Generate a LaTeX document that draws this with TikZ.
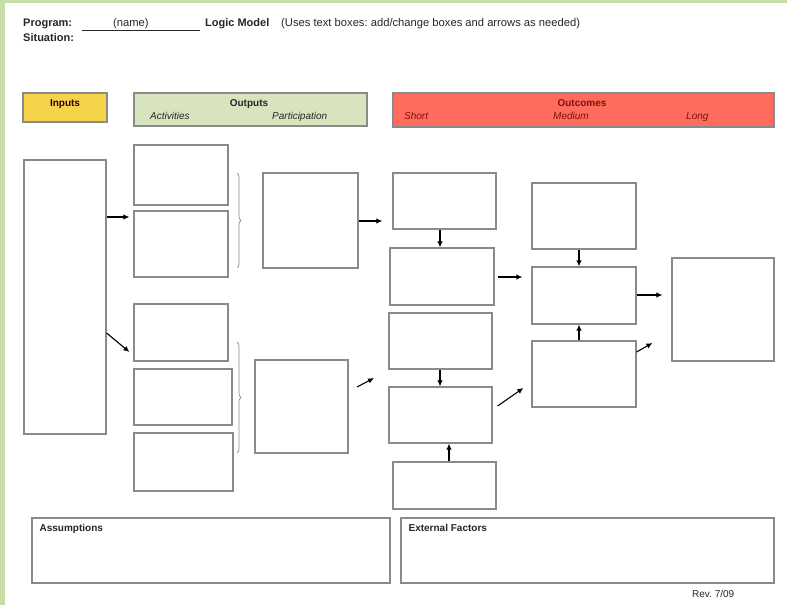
\documentclass[tikz,border=0pt]{standalone}
\usepackage{fontspec}
\setmainfont{Liberation Sans}
\usetikzlibrary{arrows.meta,decorations.pathreplacing}
\frenchspacing
\definecolor{framegreen}{HTML}{C6DDA6}
\definecolor{boxline}{HTML}{8A8A8A}
\definecolor{inputsfill}{HTML}{F5D44A}
\definecolor{outputsfill}{HTML}{D8E4BE}
\definecolor{outcomesfill}{HTML}{FF6B5C}
\definecolor{outcomestext}{HTML}{7A1410}
\definecolor{textdark}{HTML}{262626}
\tikzset{
  box/.style={draw=boxline, line width=1.2pt, fill=white, inner sep=0pt},
  headbox/.style={draw=boxline, line width=1.1pt, inner sep=0pt},
  label/.style={inner sep=0pt, anchor=base west, text=textdark, font=\fontsize{10}{12}\selectfont},
  boldlabel/.style={label, font=\fontsize{10}{12}\selectfont\bfseries},
  headlabel/.style={label, font=\fontsize{11.2}{13}\selectfont},
  headbold/.style={label, font=\fontsize{11}{13}\selectfont\bfseries},
  arr/.style={-{Latex[length=6pt,width=5.5pt]}, line width=1.1pt, black},
  bracket/.style={decorate, decoration={brace, amplitude=4pt}, draw=boxline, line width=0.7pt}
}
\newcommand{\boxat}[5]{\node[box, minimum width=#3pt, minimum height=#4pt] (#1) at (#2) {#5};}
\begin{document}
\begin{tikzpicture}[x=1pt, y=-1pt]
\useasboundingbox (0,0) rectangle (787,605);
% page frame edges
\fill[framegreen] (0,0) rectangle (5,605);
\fill[framegreen] (0,0) rectangle (787,2.5);

% title lines
\node[headbold] (prog) at (23,27) {Program:};
\node[headlabel] (pname) at (113,27) {(name)};
\coordinate (ulA) at (82,30.5);
\coordinate (ulB) at (200,30.5);
\draw[textdark, line width=0.8pt] (ulA) -- (ulB);
\node[headbold] (lm) at (205,27) {Logic Model};
\node[headlabel] (note) at (281,27) {(Uses text boxes: add/change boxes and arrows as needed)};
\node[headbold] (sit) at (23,41) {Situation:};

% column headings
\node[headbox, fill=inputsfill, minimum width=84pt, minimum height=29pt] (hin) at (65,107.5) {};
\node[boldlabel, anchor=base, text=black!80!red] (hinT) at (65,106) {Inputs};
\node[headbox, fill=outputsfill, minimum width=233pt, minimum height=33pt] (hout) at (250.5,109.5) {};
\node[boldlabel, anchor=base] (houtT) at (249,106) {Outputs};
\node[label, font=\fontsize{10}{12}\selectfont\itshape] (act) at (150,119) {Activities};
\node[label, font=\fontsize{10}{12}\selectfont\itshape] (par) at (272,119) {Participation};
\node[headbox, fill=outcomesfill, minimum width=381pt, minimum height=34pt] (hoc) at (583.5,110) {};
\node[boldlabel, anchor=base, text=outcomestext] (hocT) at (582,106) {Outcomes};
\node[label, text=outcomestext, font=\fontsize{10}{12}\selectfont\itshape] (sh) at (404,119) {Short};
\node[label, text=outcomestext, font=\fontsize{10}{12}\selectfont\itshape] (md) at (553,119) {Medium};
\node[label, text=outcomestext, font=\fontsize{10}{12}\selectfont\itshape] (lg) at (686,119) {Long};

% inputs
\boxat{in}{65,297}{82}{274}{}
% activities
\boxat{a1}{181,175}{94}{60}{}
\boxat{a2}{181,244}{94}{66}{}
\boxat{a3}{181,332.5}{94}{57}{}
\boxat{a4}{183,397}{98}{56}{}
\boxat{a5}{183.5,462}{99}{58}{}
% participation
\boxat{p1}{310.5,220.5}{95}{95}{}
\boxat{p2}{301.5,406.5}{93}{93}{}
% short-term outcomes
\boxat{s1}{444.5,201}{103}{56}{}
\boxat{s2}{442,276.5}{104}{57}{}
\boxat{s3}{440.5,341}{103}{56}{}
\boxat{s4}{440.5,415}{103}{56}{}
\boxat{s5}{444.5,485.5}{103}{47}{}
% medium-term outcomes
\boxat{m1}{584,216}{104}{66}{}
\boxat{m2}{584,295.5}{104}{57}{}
\boxat{m3}{584,374}{104}{66}{}
% long-term outcome
\boxat{lo}{723,309.5}{102}{103}{}

% assumptions and external factors
\boxat{asm}{211,550.5}{358}{65}{}
\node[boldlabel] (asmT) at ([shift={(8,14)}]asm.north west) {Assumptions};
\boxat{ext}{587.5,550.5}{373}{65}{}
\node[boldlabel] (extT) at ([shift={(8,14)}]ext.north west) {External Factors};
\node[label] (rev) at (692,597) {Rev. 7/09};

% braces grouping activities
\draw[bracket] (237,173) -- (237,268);
\draw[bracket] (237,342) -- (237,453);

% connectors
\draw[arr] (in.east |- 0,217) -- ([xshift=-4pt]a2.west |- 0,217);
\draw[arr] (in.east |- 0,333) -- ([xshift=-4pt]a3.west |- 0,352);
\draw[arr] (p1.east |- 0,221) -- ([xshift=-10pt]s1.west |- 0,221);
\coordinate (p2tail) at (357,387);
\coordinate (p2head) at (374,378);
\draw[arr] (p2tail) -- (p2head);
\draw[arr] (s1.south -| 440,0) -- (s2.north -| 440,0);
\draw[arr] (s3.south -| 440,0) -- (s4.north -| 440,0);
\draw[arr] (s5.north -| 449,0) -- (s4.south -| 449,0);
\draw[arr] ([xshift=3pt]s2.east |- 0,277) -- ([xshift=-9pt]m2.west |- 0,277);
\draw[arr] ([xshift=5pt]s4.east |- 0,406) -- ([xshift=-8pt]m3.west |- 0,388);
\draw[arr] (m1.south -| 579,0) -- (m2.north -| 579,0);
\draw[arr] (m3.north -| 579,0) -- (m2.south -| 579,0);
\draw[arr] (m2.east |- 0,295) -- ([xshift=-9pt]lo.west |- 0,295);
\draw[arr] (m3.east |- 0,352) -- ([xshift=-19pt]lo.west |- 0,343);
\end{tikzpicture}
\end{document}
